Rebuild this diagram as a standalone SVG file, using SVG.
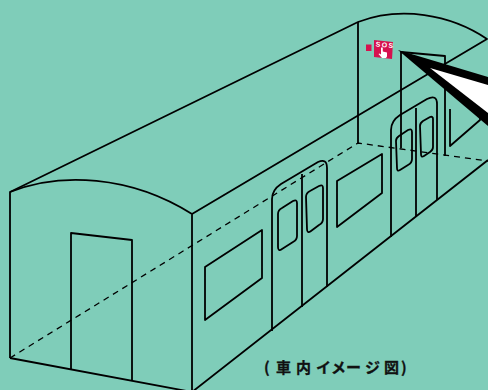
<svg xmlns="http://www.w3.org/2000/svg" width="488" height="390" viewBox="0 0 488 390">
<style>
.l{fill:none;stroke:#000;stroke-width:1.8;stroke-linejoin:round}
.d{fill:none;stroke:#000;stroke-width:1.3;stroke-dasharray:6 5}
.t{font-family:"Noto Sans CJK JP","Liberation Sans",sans-serif;font-weight:700;font-size:15px;fill:#111;stroke:#111;stroke-width:.3}
</style>
<rect width="488" height="390" fill="#7fcdb9"/>
<g id="connectors">
<path class="d" d="M10 358L358 143L488 161"/>
</g>
<g id="car-body">
<path class="l" d="M10 358V192C60 172 130 175 192 214V390"/>
<path class="l" d="M10 358L192 392L488 160"/>
<path class="l" d="M10 192L358 22C400 6 450 14 487 39L192 214"/>
<path class="l" d="M358 22V143"/>
</g>
<g id="end-door"><path class="l" d="M71 370V233L132 240V381"/></g>
<g id="far-door"><path class="l" d="M401 148V52L445 56V156"/></g>
<g id="window-1"><path class="l" d="M205 267L262 230V278L205 320Z"/></g>
<g id="window-2"><path class="l" d="M337 181L382 154V193L337 227Z"/></g>
<g id="window-3"><path class="l" d="M450 109V146L480 120V100"/></g>
<g id="door-1">
<path class="l" d="M272 331V199Q272 190 281 184L318 162Q327 158 327 168V287"/>
<path class="l" d="M302 174V307"/>
<path class="l" d="M278 214Q278 210 282 208L293 201Q297 199 297 203V236Q297 240 293 242L282 249Q278 252 278 247Z"/>
<path class="l" d="M306 197Q306 193 310 191L319 186Q323 184 323 188V219Q323 223 319 225L311 231Q307 234 307 229Z"/>
</g>
<g id="door-2">
<path class="l" d="M391 237V130Q391 121 400 115L427 99Q437 94 437 104V200"/>
<path class="l" d="M416 108V217"/>
<path class="l" d="M396 141Q396 138 399 136L408 130Q412 128 412 132V159Q412 163 408 165L400 170Q397 172 397 168Z"/>
<path class="l" d="M420 126Q420 123 423 121L430 117Q433 116 433 119V147Q433 150 430 152L424 156Q421 158 421 154Z"/>
</g>
<g id="pointer">
<path d="M398 50L488 77V126Z" fill="#000"/>
<path d="M430 68L488 85V113Z" fill="#fff"/>
</g>
<g id="sos-icon">
<rect x="366" y="44.500" width="5.500" height="6.500" fill="#d6124f"/>
<path d="M374 40L393 42L392 59L374 57Z" fill="#d6124f"/>
<text transform="translate(375.500 46.500) rotate(6)" font-family="Liberation Sans,sans-serif" font-weight="700" font-size="7" letter-spacing="1.300" fill="#fff">SOS</text>
<path d="M381 47.500h1.800v4l4.200 1v4l-1 1.500h-4l-3.500-4l1-.5l1.500 1Z" fill="#fff"/>
</g>
<g id="caption">
<text class="t" y="373" x="264 276 296 316 331 346 365 384 401">(車内イメージ図)</text>
</g>
</svg>
